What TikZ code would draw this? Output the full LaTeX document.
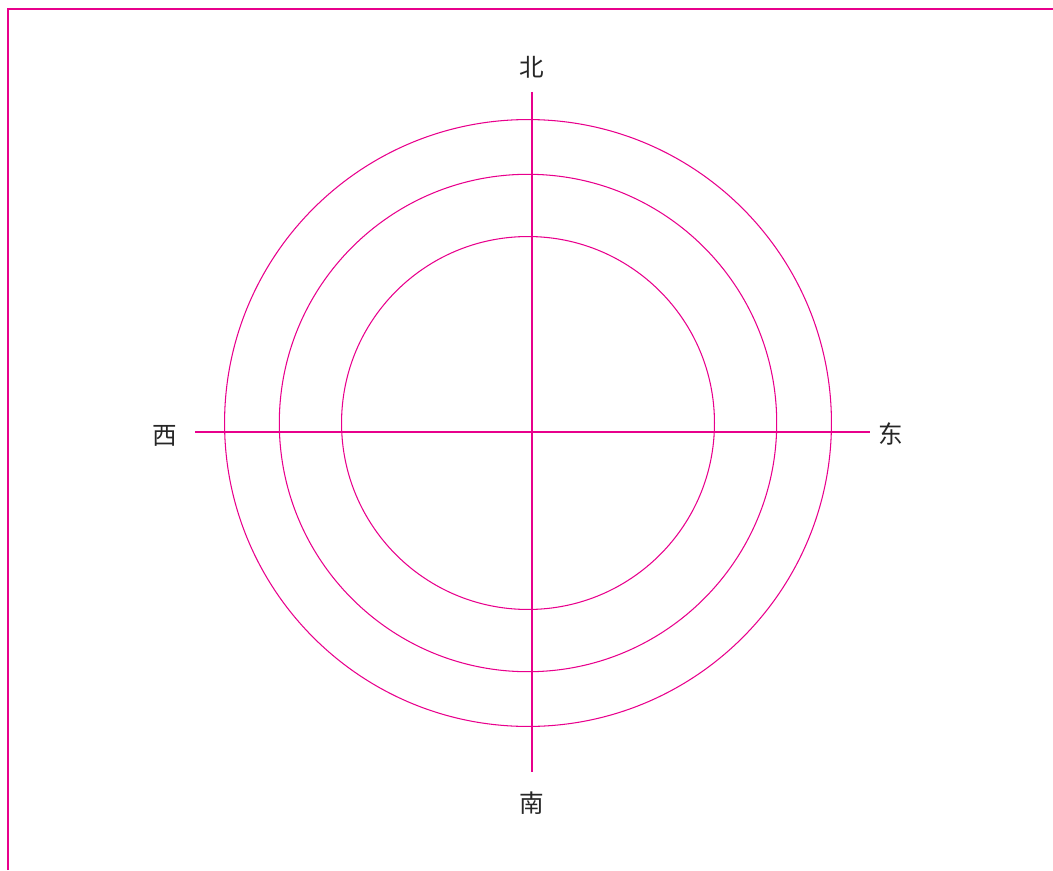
\documentclass[tikz,border=0pt]{standalone}
\usepackage{fontspec}
\newfontfamily\cjk{Noto Sans CJK SC}
\usepackage{xcolor}
\definecolor{rose}{RGB}{232,0,140}

\begin{document}
\begin{tikzpicture}[
  x=0.02cm, y=0.02cm,
  ring/.style={circle, draw=rose, line width=0.6pt, inner sep=0pt},
  axis/.style={draw=rose, line width=0.7pt},
  frame/.style={draw=rose, line width=1pt},
  dirlabel/.style={font=\cjk\fontsize{14}{16}\selectfont, text=black!85, inner sep=0pt}
]
  \useasboundingbox (0,0) rectangle (1053,870);

  % page corner
  \coordinate (tl) at (8,861);
  \coordinate (tr) at (1053,861);
  \coordinate (bl) at (8,0);
  \draw[frame] (bl) -- (tl) -- (tr);

  % centre of the three rings (a little off the crossing)
  \coordinate (c) at (528,447);
  \node[ring, minimum size=12.14cm] (outerring) at (c) {};
  \node[ring, minimum size=9.95cm] (midring) at (c) {};
  \node[ring, minimum size=7.46cm] (innerring) at (c) {};

  % axes
  \coordinate (wend) at (195,438);
  \coordinate (eend) at (870,438);
  \coordinate (nend) at (532,778);
  \coordinate (send) at (532,98);
  \draw[axis] (wend) -- (eend);
  \draw[axis] (nend) -- (send);

  % directions
  \node[dirlabel] (north) at (532,803) {北};
  \node[dirlabel] (south) at (532,67) {南};
  \node[dirlabel] (west) at (165,434) {西};
  \node[dirlabel] (east) at (891,436) {东};
\end{tikzpicture}
\end{document}
